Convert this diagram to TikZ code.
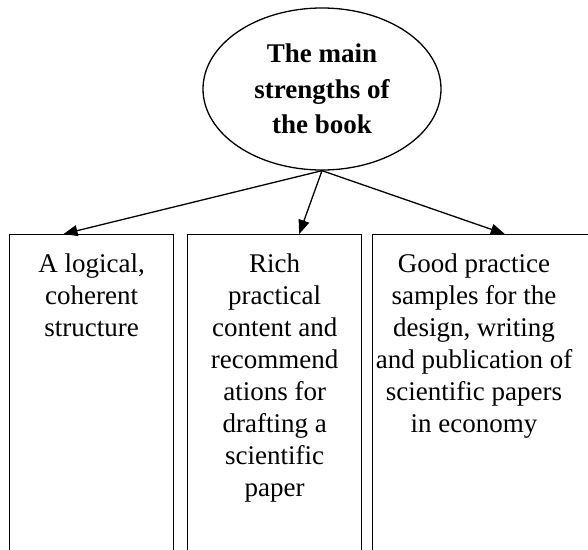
\documentclass[tikz,border=0pt]{standalone}
\usepackage{fontspec}
\setmainfont{Liberation Serif}
\usetikzlibrary{arrows.meta,calc,shapes.geometric}

\begin{document}
\begin{tikzpicture}[x=1pt,y=-1pt,line width=1.3pt,
  oval/.style={ellipse,draw,minimum width=238pt,minimum height=162pt,inner sep=0pt,
    align=center,font=\fontsize{27}{35.5}\selectfont\bfseries},
  box/.style={rectangle,draw,anchor=north west,minimum height=340pt,inner sep=0pt},
  boxtext/.style={anchor=north,align=center,inner sep=0pt,font=\fontsize{27}{32}\selectfont},
  arr/.style={-{Triangle[length=14pt,width=11pt]}}]
  \useasboundingbox (0,0) rectangle (588,549);
  \clip (0,0) rectangle (588,549);
  % top
  \node[oval] (main) at (322,89) {The main\\strengths of\\the book};
  % three boxes
  \node[box,minimum width=164pt] (box1) at (9,234) {};
  \node[box,minimum width=174pt] (box2) at (187,234) {};
  \node[box,minimum width=220pt] (box3) at (372,234) {};
  \node[boxtext] (txt1) at ($(box1.north)+(0,19)$) {A logical,\\coherent\\structure};
  \node[boxtext] (txt2) at ($(box2.north)+(0,19)$) {Rich\\practical\\content and\\recommend\\ations for\\drafting a\\scientific\\paper};
  \node[boxtext] (txt3) at ($(372,234)+(102,19)$) {Good practice\\samples for the\\design, writing\\and publication of\\scientific papers\\in economy};
  % arrows
  \draw[arr] (main.south) -- ($(box1.north west)!0.33!(box1.north east)$);
  \draw[arr] (main.south) -- ($(box2.north west)!0.64!(box2.north east)$);
  \draw[arr] (main.south) -- ($(box3.north west)!0.6!(box3.north east)$);
\end{tikzpicture}
\end{document}
